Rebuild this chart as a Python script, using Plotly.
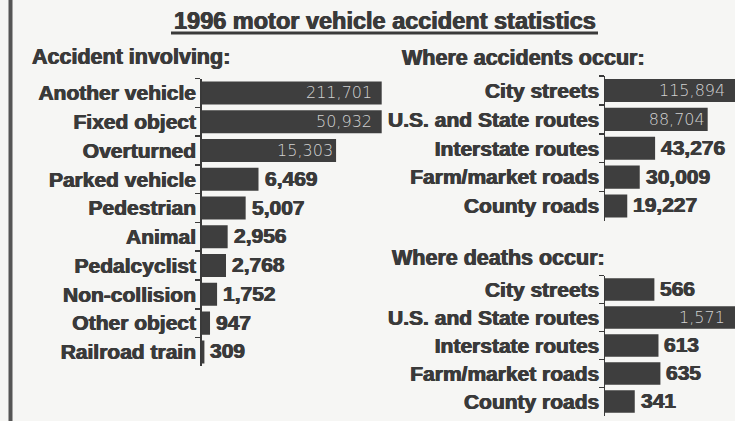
import plotly.graph_objects as go

# ---- data ----
title_text = "1996 motor vehicle accident statistics"
involve_title = "Accident involving:"
involve_labels = ["Another vehicle", "Fixed object", "Overturned", "Parked vehicle",
                  "Pedestrian", "Animal", "Pedalcyclist", "Non-collision",
                  "Other object", "Railroad train"]
involve_values = [211701, 50932, 15303, 6469, 5007, 2956, 2768, 1752, 947, 309]

where_labels = ["City streets", "U.S. and State routes", "Interstate routes",
                "Farm/market roads", "County roads"]
accidents_title = "Where accidents occur:"
accident_values = [115894, 88704, 43276, 30009, 19227]
deaths_title = "Where deaths occur:"
death_values = [566, 1571, 613, 635, 341]

# ---- style ----
W, H = 735, 421
BG = "#f6f6f4"
BAR = "#3e3e3e"
INK = "#3a3a3a"
BOLD = "Liberation Sans, Arial, sans-serif"
BW = "bold"
HEAVY = "0.5px 0 0 #3a3a3a, -0.5px 0 0 #3a3a3a"
THIN = "DejaVu Sans, sans-serif"
INSIDE_FONT = dict(family=THIN, size=16, color="#d2d2d2", weight=300)

def heavy(size):
    return dict(family=BOLD, size=size, color=INK, weight=BW, shadow=HEAVY)

def px(x):
    return x / W

def py(y):
    return 1 - y / H

fig = go.Figure()

panels = [
    (involve_labels, involve_values, "x", "y", 20500),
    (where_labels, accident_values, "x2", "y2", 112300),
    (where_labels, death_values, "x3", "y3", 1490),
]

annotations = []
for labels, values, xa, ya, rmax in panels:
    pos = []
    for lab, v in zip(labels, values):
        if v > rmax:
            # bar runs past the (broken) scale: label at the visible end
            pos.append("none")
            annotations.append(dict(
                text=f"{v:,}", x=min(v, rmax), y=lab, xref=xa, yref=ya,
                xanchor="right", yanchor="middle", xshift=-8, showarrow=False,
                font=INSIDE_FONT))
        elif v > 0.5 * rmax:
            pos.append("inside")
        else:
            # value printed just past the end of the bar
            pos.append("none")
            annotations.append(dict(
                text=f"{v:,}", x=v, y=lab, xref=xa, yref=ya,
                xanchor="left", yanchor="middle", xshift=4, yshift=1,
                showarrow=False, font=heavy(21)))
    fig.add_trace(go.Bar(
        x=values, y=labels, orientation="h",
        xaxis=xa, yaxis=ya,
        marker=dict(color=BAR, line=dict(width=0)),
        text=[f"{v:,}" for v in values],
        textposition=pos,
        insidetextanchor="end",
        insidetextfont=INSIDE_FONT,
        constraintext="none",
        cliponaxis=True,
        hoverinfo="skip",
        showlegend=False,
    ))

def xax(dom, rmax):
    return dict(domain=dom, range=[0, rmax], visible=False, fixedrange=True)

def yax(dom, anchor):
    return dict(domain=dom, anchor=anchor, autorange="reversed", type="category",
                showline=True, linecolor=INK, linewidth=1.5,
                ticks="outside", tickson="boundaries", ticklen=5, tickwidth=1.5,
                tickcolor=INK, showgrid=False, zeroline=False, fixedrange=True,
                tickfont=heavy(21))

fig.update_layout(
    width=W, height=H,
    margin=dict(l=0, r=0, t=0, b=0),
    paper_bgcolor=BG, plot_bgcolor="rgba(0,0,0,0)",
    bargap=0.2,
    xaxis=xax([px(201.7), px(381.7)], 20500),
    yaxis=yax([py(366.4), py(78.6)], "x"),
    xaxis2=dict(xax([px(605), 1.0], 112300), anchor="y2"),
    yaxis2=yax([py(220.5), py(76)], "x2"),
    xaxis3=dict(xax([px(605), 1.0], 1490), anchor="y3"),
    yaxis3=yax([py(416), py(275.5)], "x3"),
)

annotations += [
    dict(text=title_text, x=px(385), y=py(21), xref="paper", yref="paper",
         xanchor="center", yanchor="middle", showarrow=False, font=heavy(23.5)),
    dict(text=involve_title, x=px(30), y=py(57), xref="paper", yref="paper",
         xanchor="left", yanchor="middle", showarrow=False, font=heavy(21.5)),
    dict(text=accidents_title, x=px(400), y=py(58), xref="paper", yref="paper",
         xanchor="left", yanchor="middle", showarrow=False, font=heavy(21.5)),
    dict(text=deaths_title, x=px(390), y=py(258), xref="paper", yref="paper",
         xanchor="left", yanchor="middle", showarrow=False, font=heavy(21.5)),
]
fig.update_layout(annotations=annotations)

fig.update_layout(shapes=[
    dict(type="line", xref="paper", yref="paper", x0=px(171), x1=px(598),
         y0=py(33), y1=py(33), line=dict(color=INK, width=3)),
    dict(type="line", xref="paper", yref="paper", x0=px(10.5), x1=px(10.5),
         y0=0, y1=1, line=dict(color="#555555", width=4)),
])

fig.write_html("out.html", config={"displayModeBar": False, "staticPlot": True},
               post_script="document.body.style.margin='0';"
                           "document.body.style.overflow='hidden';")
